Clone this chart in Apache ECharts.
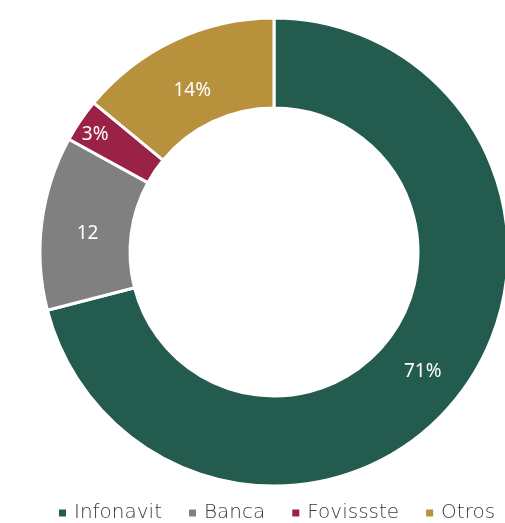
<!DOCTYPE html>
<html>
<head>
<meta charset="utf-8">
<script src="https://cdn.jsdelivr.net/npm/echarts@6/dist/echarts.min.js"></script>
<style>
  html, body { margin: 0; padding: 0; background: #fff; }
  #chart { width: 505px; height: 523px; }
</style>
</head>
<body>
<div id="chart"></div>
<script>
// Distribución de créditos por institución
const categories = ['Infonavit', 'Banca', 'Fovissste', 'Otros'];
const values = [71, 12, 3, 14];
const labelTexts = ['71%', '12', '3%', '14%'];
const colors = ['#235B4E', '#808080', '#9B2247', '#B8913D'];

// small nudges so each label sits where it reads best inside its slice
const labelShift = [[-3, 2], [4, 6], [-20, -9], [0, 12]];

const chart = echarts.init(document.getElementById('chart'));

chart.setOption({
  animation: false,
  color: colors,
  legend: {
    data: categories,
    top: 503,
    left: 57,
    width: 460,
    padding: 0,
    icon: 'rect',
    itemWidth: 9,
    itemHeight: 9,
    itemGap: 25,
    textStyle: {
      fontFamily: 'DejaVu Sans',
      fontWeight: 200,
      fontSize: 20,
      color: '#3a3a3a',
      padding: [0, 0, 0, 2]
    }
  },
  series: [{
    type: 'pie',
    center: [274, 252],
    radius: [144, 234],
    startAngle: 90,
    clockwise: true,
    avoidLabelOverlap: false,
    itemStyle: { borderColor: '#ffffff', borderWidth: 3 },
    label: {
      show: true,
      position: 'inside',
      color: '#ffffff',
      fontFamily: 'Noto Sans',
      fontSize: 19,
      formatter: p => labelTexts[p.dataIndex]
    },
    labelLayout: p => ({ dx: labelShift[p.dataIndex][0], dy: labelShift[p.dataIndex][1] }),
    labelLine: { show: false },
    data: categories.map((name, i) => ({ name, value: values[i] }))
  }]
});
</script>
</body>
</html>
